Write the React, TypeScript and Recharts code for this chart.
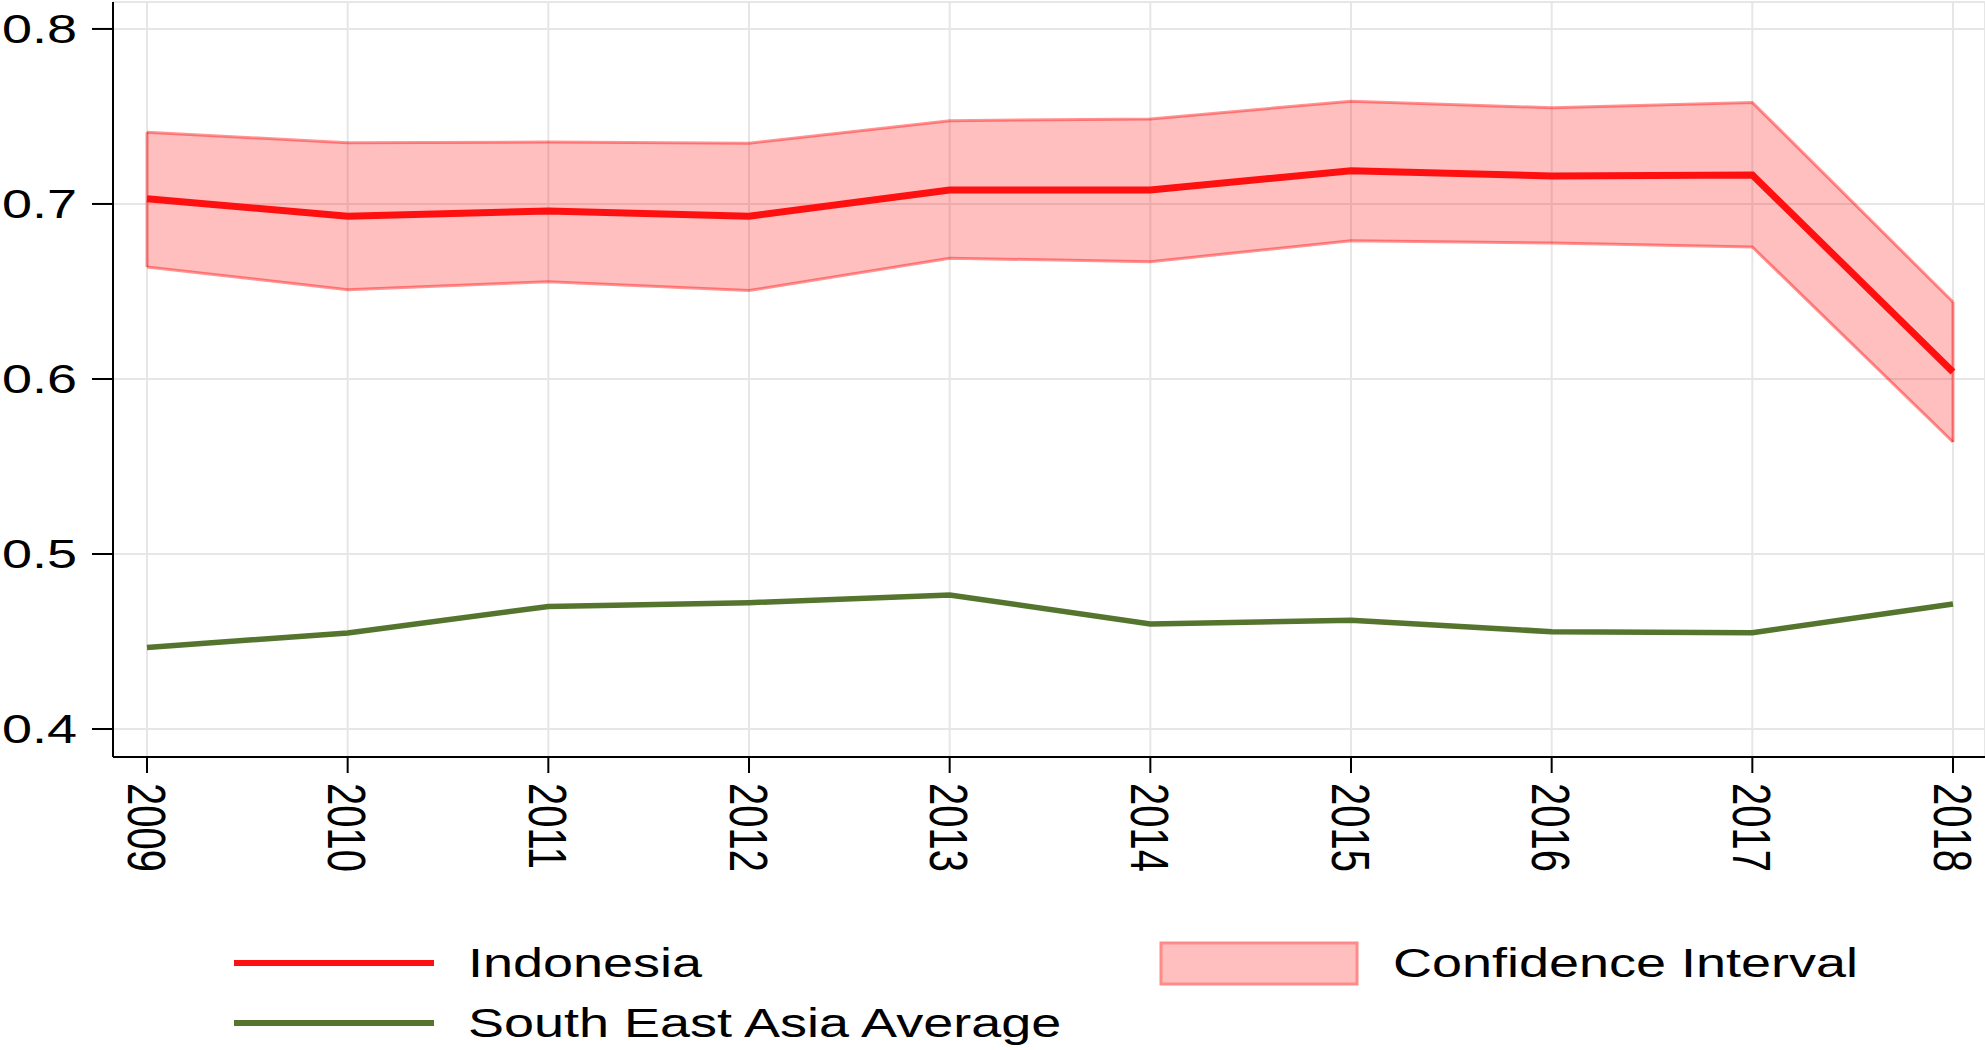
import React from "react";
import {
  ComposedChart,
  Area,
  Line,
  XAxis,
  YAxis,
  CartesianGrid,
  ReferenceLine,
  Legend,
} from "recharts";

// values
const years = [2009, 2010, 2011, 2012, 2013, 2014, 2015, 2016, 2017, 2018];
const indonesia = [0.703, 0.693, 0.696, 0.693, 0.708, 0.708, 0.719, 0.716, 0.7166, 0.604];
const ciLow = [0.664, 0.651, 0.6556, 0.6505, 0.669, 0.667, 0.679, 0.6777, 0.6754, 0.564];
const ciHigh = [0.741, 0.735, 0.7354, 0.7347, 0.7476, 0.7486, 0.7587, 0.755, 0.758, 0.644];
const seaAverage = [0.4466, 0.4549, 0.47, 0.4722, 0.4766, 0.46, 0.4621, 0.4556, 0.455, 0.4714];
const yTicks = [0.4, 0.5, 0.6, 0.7, 0.8];

const data = years.map((year, i) => ({
  year,
  indonesia: indonesia[i],
  ci: [ciLow[i], ciHigh[i]],
  sea: seaAverage[i],
}));

const FONT = "'Liberation Sans', Arial, Helvetica, sans-serif";
const STRETCH = 1.35;
const RED = "#ff1010";
const GREEN = "#55752f";
const GRID = "#e6e6e6";

function YTick({ x, y, payload }: any) {
  return (
    <g transform={`translate(${x},${y}) scale(${STRETCH},1)`}>
      <text x={0} y={0} dy="0.36em" textAnchor="end" fontSize={40} fontFamily={FONT} fill="#000">
        {Number(payload.value).toFixed(1)}
      </text>
    </g>
  );
}

function XTick({ x, y, payload }: any) {
  return (
    <g transform={`translate(${x},${y}) scale(${STRETCH},1) rotate(90)`}>
      <text x={0} y={0} dy="0.36em" textAnchor="start" fontSize={40} fontFamily={FONT} fill="#000">
        {payload.value}
      </text>
    </g>
  );
}

function LegendText({ x, y, children }: { x: number; y: number; children: React.ReactNode }) {
  return (
    <g transform={`translate(${x},${y}) scale(${STRETCH},1)`}>
      <text x={0} y={0} dy="0.36em" fontSize={40} fontFamily={FONT} fill="#000">
        {children}
      </text>
    </g>
  );
}

function ChartLegend() {
  return (
    <svg width={1985} height={130} style={{ display: "block" }}>
      <line x1={234} x2={434} y1={43} y2={43} stroke={RED} strokeWidth={6} />
      <LegendText x={468} y={43}>Indonesia</LegendText>
      <line x1={234} x2={434} y1={103} y2={103} stroke={GREEN} strokeWidth={6} />
      <LegendText x={468} y={103}>South East Asia Average</LegendText>
      <rect
        x={1161}
        y={23}
        width={196}
        height={41}
        fill="#ff0000"
        fillOpacity={0.25}
        stroke="#ff8a8a"
        strokeWidth={3}
      />
      <LegendText x={1393} y={43}>Confidence Interval</LegendText>
    </svg>
  );
}

export default function App() {
  const first = 0;
  const last = years.length - 1;
  return (
    <div style={{ position: "absolute", left: 0, top: 0, width: 1985, height: 1050, background: "#fff" }}>
      <ComposedChart
        width={1985}
        height={1050}
        data={data}
        margin={{ top: 2, right: 0, bottom: 0, left: 0 }}
      >
        <CartesianGrid stroke={GRID} strokeWidth={2} />
        <XAxis
          dataKey="year"
          type="category"
          scale="point"
          padding={{ left: 34, right: 32 }}
          height={293}
          axisLine={{ stroke: "#000", strokeWidth: 2 }}
          tickLine={{ stroke: "#000", strokeWidth: 2 }}
          tickSize={16}
          tickMargin={10}
          interval={0}
          tick={<XTick />}
        />
        <YAxis
          type="number"
          domain={[0.384, 0.8154]}
          ticks={yTicks}
          width={113}
          axisLine={{ stroke: "#000", strokeWidth: 2 }}
          tickLine={{ stroke: "#000", strokeWidth: 2 }}
          tickSize={21}
          tickMargin={15}
          tick={<YTick />}
          allowDataOverflow
        />
        <Area
          dataKey="ci"
          type="linear"
          fill="#ff0000"
          fillOpacity={0.25}
          stroke="#ff0000"
          strokeOpacity={0.42}
          strokeWidth={3}
          isAnimationActive={false}
          legendType="none"
        />
        <ReferenceLine
          segment={[
            { x: years[first], y: ciLow[first] },
            { x: years[first], y: ciHigh[first] },
          ]}
          stroke="#ff0000"
          strokeOpacity={0.42}
          strokeWidth={3}
        />
        <ReferenceLine
          segment={[
            { x: years[last], y: ciLow[last] },
            { x: years[last], y: ciHigh[last] },
          ]}
          stroke="#ff0000"
          strokeOpacity={0.42}
          strokeWidth={3}
        />
        <Line
          dataKey="indonesia"
          type="linear"
          stroke={RED}
          strokeWidth={7}
          dot={false}
          activeDot={false}
          strokeLinejoin="miter"
          isAnimationActive={false}
        />
        <Line
          dataKey="sea"
          type="linear"
          stroke={GREEN}
          strokeWidth={5.5}
          dot={false}
          activeDot={false}
          strokeLinejoin="miter"
          isAnimationActive={false}
        />
        <Legend
          layout="horizontal"
          verticalAlign="middle"
          align="center"
          wrapperStyle={{ top: 920, left: 0, width: 1985, height: 130 }}
          content={() => <ChartLegend />}
        />
      </ComposedChart>
    </div>
  );
}
